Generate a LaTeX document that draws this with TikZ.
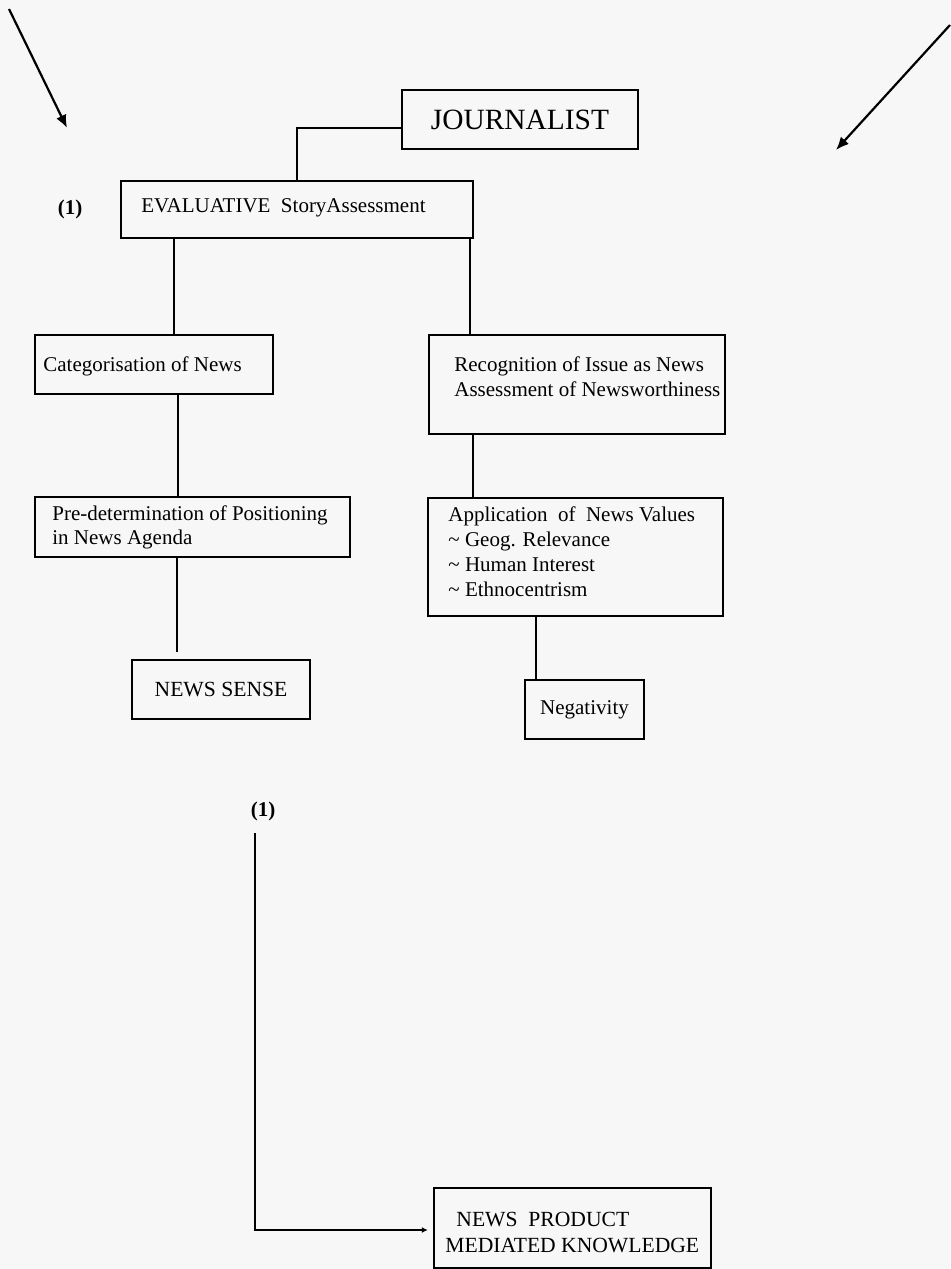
\documentclass[tikz,border=0pt]{standalone}
\usepackage{fontspec}
\setmainfont{Liberation Serif}
\usetikzlibrary{arrows.meta}
\begin{document}
\begin{tikzpicture}[x=0.5pt,y=-0.5pt,
  box/.style={draw, line width=1.25pt, rectangle, inner sep=0pt},
  txt/.style={inner sep=0pt, anchor=north west, align=left,
              font=\fontsize{10.5}{12.5}\selectfont},
  tag/.style={inner sep=0pt, font=\bfseries\fontsize{10.5}{12.5}\selectfont},
  link/.style={line width=1pt},
  ptr/.style={line width=1.1pt, -{Latex[length=6.5pt,width=5.5pt]}},
  smallptr/.style={line width=1pt, -{Latex[length=3pt,width=3pt]}},
]
% page
\fill[white!97!black] (0,0) rectangle (950,1269);
\useasboundingbox (0,0) rectangle (950,1269);

% incoming arrows at the top corners
\coordinate (inL0) at (9,9);
\coordinate (inL1) at (67,128);
\coordinate (inR0) at (950,25);
\coordinate (inR1) at (836,150);
\draw[ptr] (inL0) -- (inL1);
\draw[ptr] (inR0) -- (inR1);

% boxes
\node[box, minimum width=118pt, minimum height=29.5pt] (jour) at (520,119.5)
  {\fontsize{14.7}{17}\selectfont JOURNALIST};
\node[box, minimum width=176pt, minimum height=28.5pt] (eval) at (297,209.5) {};
\node[txt] (evalT) at (141,198) {EVALUATIVE\ \ StoryAssessment};
\node[tag] (tagA) at (70,209) {(1)};

\node[box, minimum width=119pt, minimum height=29.5pt] (cat) at (154,364.5) {};
\node[txt] (catT) at (43,356) {Categorisation of News};

\node[box, minimum width=157.5pt, minimum height=30pt] (pre) at (192.5,527) {};
\node[txt, font=\fontsize{10.5}{12}\selectfont] (preT) at (52,505)
  {Pre-determination of Positioning\\ in News Agenda};

\node[box, minimum width=89pt, minimum height=29.5pt] (sense) at (221,689.5)
  {\fontsize{10.8}{12}\selectfont NEWS SENSE};

\node[box, minimum width=148pt, minimum height=49.5pt] (rec) at (577,384.5) {};
\node[txt] (recT) at (454,356)
  {Recognition of Issue as News\\Assessment of Newsworthiness};

\node[box, minimum width=147.5pt, minimum height=59pt] (app) at (575.5,557) {};
\node[txt] (appT) at (448,506)
  {Application\ \ of\ \ News Values\\
   \textasciitilde\ Geog. Relevance\\
   \textasciitilde\ Human Interest\\
   \textasciitilde\ Ethnocentrism};

\node[box, minimum width=59.5pt, minimum height=29.5pt] (neg) at (584.5,709.5)
  {\fontsize{10.5}{12}\selectfont Negativity};

\node[tag] (tagB) at (263,811) {(1)};

\node[box, minimum width=138.5pt, minimum height=40pt] (prod) at (572.5,1228) {};
\node[txt, font=\fontsize{10.8}{13}\selectfont] (prodT) at (445,1212)
  {\hspace{5.5pt}NEWS\ \ PRODUCT\\MEDIATED KNOWLEDGE};

% x positions of the vertical links
\coordinate (xJ) at (297,0);
\coordinate (xL1) at (174,0);
\coordinate (xR1) at (470,0);
\coordinate (xL2) at (178,0);
\coordinate (xL3) at (177,0);
\coordinate (xR2) at (473,0);
\coordinate (xR3) at (536,0);
\coordinate (fb) at (255,833);

% links
\draw[link] ([yshift=-4.25pt]jour.west) -| (eval.north -| xJ);
\draw[link] (eval.south -| xL1) -- (cat.north -| xL1);
\draw[link] (eval.south -| xR1) -- (rec.north -| xR1);
\draw[link] (cat.south -| xL2) -- (pre.north -| xL2);
\draw[link, shorten >=3.5pt] (pre.south -| xL3) -- (sense.north -| xL3);
\draw[link] (rec.south -| xR2) -- (app.north -| xR2);
\draw[link] (app.south -| xR3) -- (neg.north -| xR3);
\draw[smallptr, shorten >=2.5pt] (fb) |- ([yshift=-1pt]prod.west);
\end{tikzpicture}
\end{document}
